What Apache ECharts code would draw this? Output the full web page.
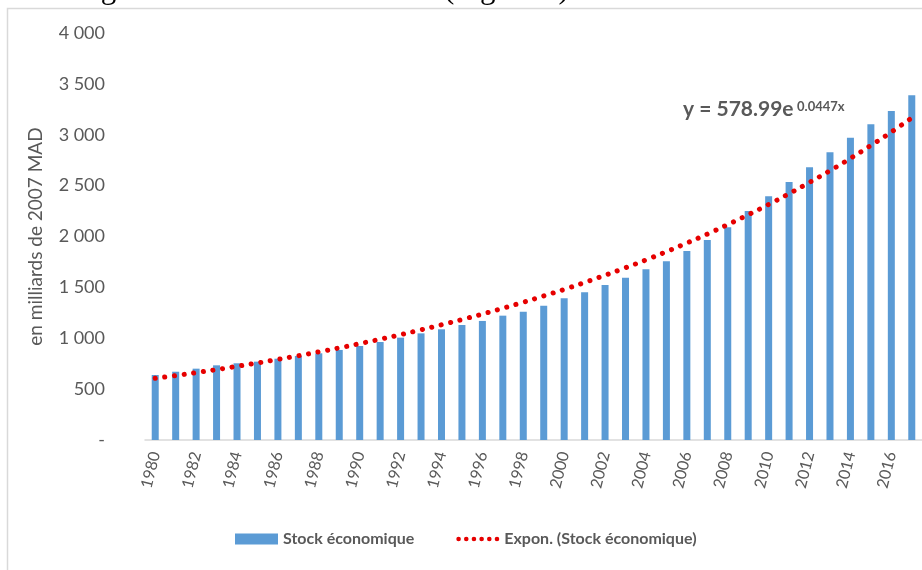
<!DOCTYPE html>
<html>
<head>
<meta charset="utf-8">
<script src="https://cdn.jsdelivr.net/npm/echarts@6/dist/echarts.min.js"></script>
<style>
  html, body { margin: 0; padding: 0; background: #fff; overflow: hidden; }
  #main { position: absolute; left: 0; top: 0; width: 922px; height: 570px; }
  #txt { position: absolute; left: 1px; top: -28px; font: 31px/31px "Liberation Serif", serif; color: #000; white-space: nowrap; }
</style>
</head>
<body>
<div id="main"></div>
<div id="txt">r une augmentation d'environ 4.5% (Figure 1).</div>
<script>
// années
var years = []
for (var y = 1980; y <= 2017; y++) years.push(String(y))

// stock économique (milliards de 2007 MAD)
var stock = [639, 671, 701, 734, 754, 770, 799, 826, 852, 885,
  924, 963, 1006, 1048, 1088, 1130, 1170, 1222, 1261, 1320,
  1392, 1451, 1523, 1595, 1677, 1756, 1857, 1966, 2090, 2251,
  2395, 2536, 2680, 2827, 2971, 3103, 3233, 3388]

// courbe de tendance exponentielle (pointillés rouges)
var trend = [606, 633, 662, 692, 724, 757, 792, 828, 866, 905,
  947, 990, 1035, 1083, 1132, 1184, 1238, 1295, 1354, 1416,
  1480, 1548, 1619, 1693, 1770, 1851, 1936, 2024, 2117, 2214,
  2315, 2421, 2532, 2647, 2768, 2895, 3027, 3166]

var yTicks = [0, 500, 1000, 1500, 2000, 2500, 3000, 3500, 4000]

var grey = '#595959'
var red = '#e60000'
var font = 'Lato, "Open Sans", sans-serif'

function fmt(v) {
  if (v === 0) return '-'
  if (v < 1000) return String(v)
  return Math.floor(v / 1000) + ' ' + ('00' + (v % 1000)).slice(-3)
}

// icône de légende : six points ronds
var dotsIcon = 'path://'
for (var i = 0; i < 6; i++) {
  var cx = 2.4 + i * 8
  dotsIcon += 'M' + (cx - 2.4) + ',2.4a2.4,2.4 0 1,0 4.8,0a2.4,2.4 0 1,0 -4.8,0'
}

var chart = echarts.init(document.getElementById('main'))
chart.setOption({
  animation: false,
  textStyle: { fontFamily: font },
  grid: { left: 145, right: 0, top: 33, bottom: 130, containLabel: false },
  legend: {
    left: 230, top: 526,
    itemGap: 42,
    itemWidth: 43,
    itemHeight: 11,
    symbolKeepAspect: true,
    textStyle: { fontFamily: font, fontSize: 16, fontWeight: 'bold', color: grey },
    data: [
      { name: 'Stock économique', icon: 'rect' },
      { name: 'Expon. (Stock économique)', icon: dotsIcon, itemStyle: { color: red } }
    ]
  },
  xAxis: {
    type: 'category',
    data: years,
    axisLine: { lineStyle: { color: '#d9d9d9', width: 1.5 } },
    axisTick: { show: false },
    axisLabel: { interval: 1, rotate: 76, margin: 12, fontSize: 16, color: grey, fontFamily: font }
  },
  yAxis: {
    type: 'value',
    min: yTicks[0], max: yTicks[yTicks.length - 1], interval: 500,
    name: 'en milliards de 2007 MAD',
    nameLocation: 'middle',
    nameGap: 100,
    nameTextStyle: { fontSize: 19, color: grey, fontFamily: font },
    axisLine: { show: false },
    axisTick: { show: false },
    splitLine: { show: false },
    axisLabel: { fontSize: 18, color: grey, margin: 40, fontFamily: font, formatter: fmt }
  },
  series: [
    {
      name: 'Stock économique',
      type: 'bar',
      data: stock,
      barWidth: 7,
      itemStyle: { color: '#5b9bd5' }
    },
    {
      name: 'Expon. (Stock économique)',
      type: 'line',
      data: trend,
      smooth: true,
      symbol: 'none',
      itemStyle: { color: red },
      lineStyle: { color: red, width: 5, type: [0.1, 9.6], cap: 'round' },
      z: 3
    }
  ],
  graphic: [
    {
      type: 'rect', silent: true,
      shape: { x: 7.5, y: 8.5, width: 2000, height: 2000 },
      style: { fill: 'none', stroke: '#d9d9d9', lineWidth: 1.5 }
    },
    {
      type: 'text', left: 683, top: 99,
      style: { text: 'y = 578.99e', fontSize: 21, fontWeight: 'bold', fill: grey, fontFamily: font }
    },
    {
      type: 'text', left: 797, top: 100,
      style: { text: '0.0447x', fontSize: 13, fontWeight: 'bold', fill: grey, fontFamily: font }
    }
  ]
})
</script>
</body>
</html>
